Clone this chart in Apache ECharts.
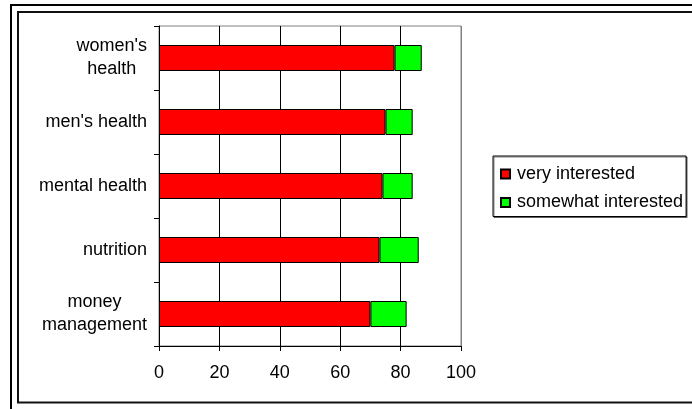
<!DOCTYPE html>
<html>
<head>
<meta charset="utf-8">
<script src="https://cdn.jsdelivr.net/npm/echarts@6/dist/echarts.min.js"></script>
<style>
html,body{margin:0;padding:0;background:#fff;}
#chart{width:692px;height:409px;}
</style>
</head>
<body>
<div id="chart"></div>
<script>
const categories = ["women's\nhealth", "men's health", "mental health", "nutrition", "money\nmanagement"];
const veryInterested = [78, 75, 74, 73, 70];
const somewhatInterested = [9, 9, 10, 13, 12];
const xTicks = [0, 20, 40, 60, 80, 100];
const seriesNames = ['very interested', 'somewhat interested'];

const FONT = '"Liberation Sans", Arial, sans-serif';
const FS = 18;
const chart = echarts.init(document.getElementById('chart'), null, {renderer: 'canvas'});
chart.setOption({
  animation: false,
  backgroundColor: '#fff',
  textStyle: {fontFamily: FONT},
  graphic: [
    {type: 'rect', shape: {x: 11, y: 5, width: 720, height: 430}, style: {fill: 'none', stroke: '#000', lineWidth: 2}, silent: true},
    {type: 'rect', shape: {x: 18, y: 12, width: 720, height: 390.5}, style: {fill: 'none', stroke: '#111', lineWidth: 2}, silent: true}
  ],
  grid: {left: 159, right: 231, top: 26, bottom: 63, show: true, borderColor: '#808080', borderWidth: 1, backgroundColor: '#fff'},
  legend: {
    orient: 'vertical', left: 493, top: 156,
    itemWidth: 9, itemHeight: 9, itemGap: 10.5, icon: 'rect',
    padding: [9, 3, 5, 7],
    borderColor: '#000', borderWidth: 1,
    shadowColor: 'rgba(0,0,0,0.5)', shadowOffsetX: 1, shadowOffsetY: 1,
    backgroundColor: '#fff',
    textStyle: {fontSize: FS, color: '#000', fontFamily: FONT, padding: [0, 0, 0, 2]},
    data: seriesNames
  },
  xAxis: {
    type: 'value', min: xTicks[0], max: xTicks[xTicks.length - 1], interval: 20,
    axisLine: {show: true, lineStyle: {color: '#000', width: 1}},
    axisTick: {show: true, length: 5, lineStyle: {color: '#000'}},
    axisLabel: {fontSize: FS, color: '#000', margin: 18, fontFamily: FONT},
    splitLine: {show: true, lineStyle: {color: ['#000', '#000', '#000', '#000', '#000', '#808080'], width: 1}}
  },
  yAxis: {
    type: 'category', inverse: true, data: categories,
    axisLine: {show: true, lineStyle: {color: '#000', width: 1}},
    axisTick: {show: true, length: 5, lineStyle: {color: '#000'}},
    axisLabel: {
      fontSize: FS, color: '#000', margin: 12, fontFamily: FONT,
      formatter: function (v) { return v.split('\n').map(function (l) { return '{c|' + l + '}'; }).join('\n'); },
      rich: {c: {align: 'center', fontSize: FS, lineHeight: 23, color: '#000', fontFamily: FONT}}
    },
    splitLine: {show: false}
  },
  series: [
    {name: seriesNames[0], type: 'bar', stack: 'total', barWidth: 26, data: veryInterested,
     itemStyle: {color: '#ff0000', borderColor: '#000', borderWidth: 1}},
    {name: seriesNames[1], type: 'bar', stack: 'total', barWidth: 26, data: somewhatInterested,
     itemStyle: {color: '#00ff00', borderColor: '#000', borderWidth: 1}}
  ]
});
</script>
</body>
</html>
